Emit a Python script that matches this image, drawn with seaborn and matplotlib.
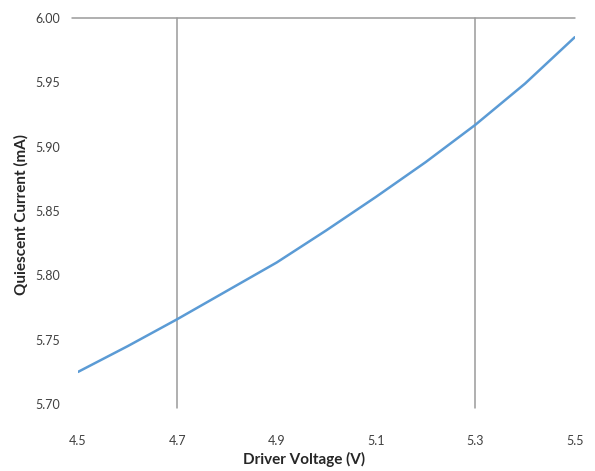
import seaborn as sns
import matplotlib.pyplot as plt
import pandas as pd

# Quiescent current vs driver voltage
voltage = [4.5, 4.6, 4.7, 4.8, 4.9, 5.0, 5.1, 5.2, 5.3, 5.4, 5.5]
current = [5.725, 5.745, 5.766, 5.788, 5.810, 5.835, 5.861, 5.888, 5.917, 5.949, 5.985]
xticks = [4.5, 4.7, 4.9, 5.1, 5.3, 5.5]
yticks = [5.70, 5.75, 5.80, 5.85, 5.90, 5.95, 6.00]

df = pd.DataFrame({"Driver Voltage (V)": voltage, "Quiescent Current (mA)": current})

sns.set_style("white")
plt.rcParams['font.family'] = ['Lato', 'DejaVu Sans']

fig = plt.figure(figsize=(5.95, 4.71), dpi=100)
ax = fig.add_axes([0.131, 0.142, 0.835, 0.820])

grid_col = "#9a9a9a"
for xv in [4.7, 5.3]:
    ax.axvline(xv, ymin=-0.01, ymax=1, color=grid_col, linewidth=1.1, clip_on=False, zorder=1)
ax.axhline(6.0, xmin=-0.012, xmax=1, color=grid_col, linewidth=1.1, clip_on=False, zorder=1)

sns.lineplot(data=df, x="Driver Voltage (V)", y="Quiescent Current (mA)",
             color="#5b9bd5", linewidth=1.8, ax=ax, zorder=3)

ax.set_xlim(4.5, 5.5)
ax.set_ylim(5.70, 6.00)
ax.set_xticks(xticks)
ax.set_xticklabels(["%.1f" % x for x in xticks])
ax.set_yticks(yticks)
ax.set_yticklabels(["%.2f" % y for y in yticks])
ax.tick_params(axis="x", length=0, pad=22, labelsize=9, labelcolor="#404040")
ax.tick_params(axis="y", length=0, pad=13, labelsize=9, labelcolor="#404040")
for s in ax.spines.values():
    s.set_visible(False)

ax.set_xlabel("Driver Voltage (V)", fontsize=11, fontweight="bold")
ax.set_ylabel("Quiescent Current (mA)", fontsize=11, fontweight="bold")
ax.xaxis.set_label_coords(0.455, -0.123)
ax.yaxis.set_label_coords(-0.10, 0.49)

plt.savefig("out.png", dpi=100)
